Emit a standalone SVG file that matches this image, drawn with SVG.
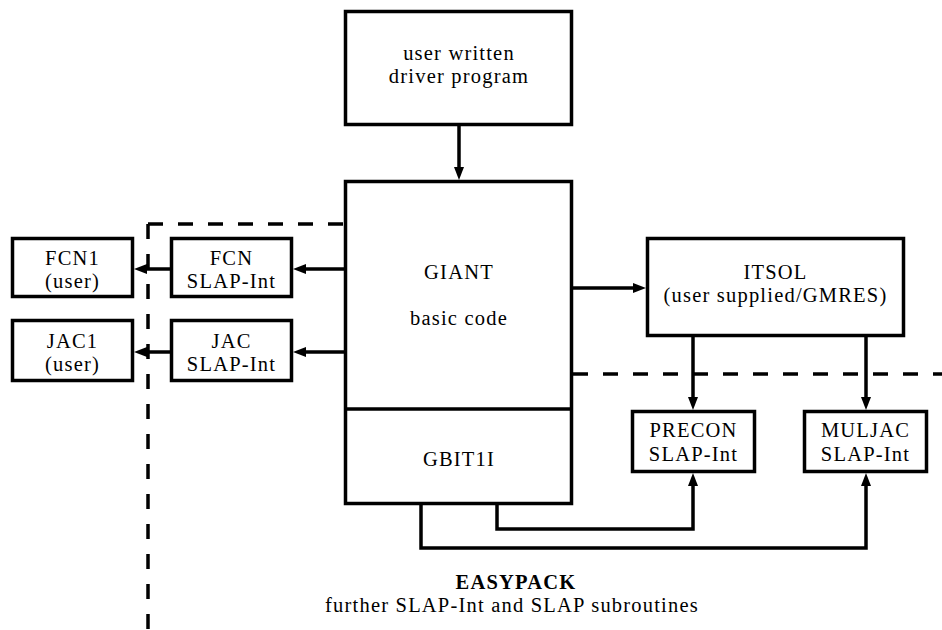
<svg xmlns="http://www.w3.org/2000/svg" width="942" height="630" viewBox="0 0 942 630">
  <style>
    .box { fill: #ffffff; stroke: #000000; stroke-width: 3.5; }
    .div { fill: none; stroke: #000000; stroke-width: 3.5; }
    .wire { fill: none; stroke: #000000; stroke-width: 3.5; }
    .arrow { marker-end: url(#head); }
    .dash { fill: none; stroke: #000000; stroke-width: 3.5; stroke-dasharray: 15 15; }
    text { font-family: "Liberation Serif", "DejaVu Serif", serif; font-size: 20.5px; letter-spacing: 1.2px; fill: #000000; text-anchor: middle; }
    .bold { font-weight: bold; }
  </style>
  <defs>
    <marker id="head" markerUnits="userSpaceOnUse" markerWidth="16" markerHeight="14" refX="5" refY="6" orient="auto">
      <path d="M0,1 L13,6 L0,11 Z" fill="#000000"/>
    </marker>
  </defs>

  <!-- EASYPACK boundary -->
  <g id="boundary">
    <path class="dash" d="M148,224 H344"/>
    <path class="dash" d="M148,224 V630"/>
    <path class="dash" d="M573,374 H942"/>
  </g>

  <!-- connectors -->
  <g id="connectors">
    <path class="wire arrow" d="M459,126 V172"/>
    <path class="wire arrow" d="M344,269 H301"/>
    <path class="wire arrow" d="M170,269 H142"/>
    <path class="wire arrow" d="M344,352 H301"/>
    <path class="wire arrow" d="M170,352 H142"/>
    <path class="wire arrow" d="M573,288 H638"/>
    <path class="wire arrow" d="M693,337 V402"/>
    <path class="wire arrow" d="M866,337 V402"/>
    <path class="wire arrow" d="M497,505 V529 H693 V481"/>
    <path class="wire arrow" d="M421,505 V548 H866 V481"/>
  </g>

  <g id="driver">
    <rect class="box" x="345.5" y="11.5" width="226" height="113"/>
    <text x="459" y="60">user written</text>
    <text x="459" y="83">driver program</text>
  </g>

  <g id="giant">
    <rect class="box" x="345.5" y="181.5" width="226" height="322"/>
    <path class="div" d="M345.5,409 H571.5"/>
    <text x="459" y="279">GIANT</text>
    <text x="459" y="325">basic code</text>
    <text x="459" y="466">GBIT1I</text>
  </g>

  <g id="fcn1">
    <rect class="box" x="12.5" y="238.5" width="120" height="58"/>
    <text x="72.5" y="265">FCN1</text>
    <text x="72.5" y="288">(user)</text>
  </g>

  <g id="fcn">
    <rect class="box" x="171.5" y="238.5" width="120" height="58"/>
    <text x="231.5" y="265">FCN</text>
    <text x="231.5" y="288">SLAP-Int</text>
  </g>

  <g id="jac1">
    <rect class="box" x="12.5" y="320.5" width="120" height="60"/>
    <text x="72.5" y="348">JAC1</text>
    <text x="72.5" y="371">(user)</text>
  </g>

  <g id="jac">
    <rect class="box" x="171.5" y="320.5" width="120" height="60"/>
    <text x="231.5" y="348">JAC</text>
    <text x="231.5" y="371">SLAP-Int</text>
  </g>

  <g id="itsol">
    <rect class="box" x="647.5" y="238.5" width="256" height="97"/>
    <text x="775.5" y="279">ITSOL</text>
    <text x="775.5" y="302">(user supplied/GMRES)</text>
  </g>

  <g id="precon">
    <rect class="box" x="632.5" y="411.5" width="122" height="60"/>
    <text x="693.5" y="437">PRECON</text>
    <text x="693.5" y="461">SLAP-Int</text>
  </g>

  <g id="muljac">
    <rect class="box" x="804.5" y="411.5" width="122" height="60"/>
    <text x="865.5" y="437">MULJAC</text>
    <text x="865.5" y="461">SLAP-Int</text>
  </g>

  <g id="easypack-label">
    <text class="bold" x="516" y="589">EASYPACK</text>
    <text x="512" y="612">further SLAP-Int and SLAP subroutines</text>
  </g>
</svg>
